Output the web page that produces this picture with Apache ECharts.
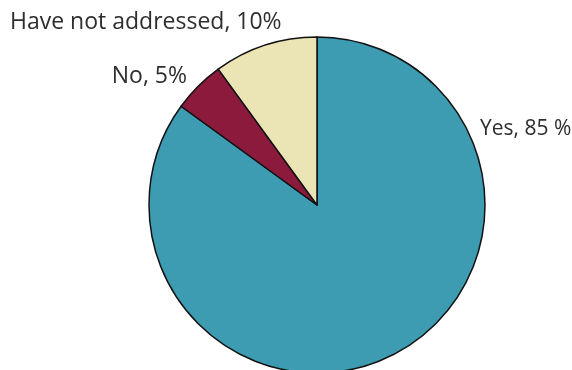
<!DOCTYPE html>
<html><head><meta charset="utf-8">
<script src="https://cdn.jsdelivr.net/npm/echarts@6/dist/echarts.min.js"></script>
<style>html,body{margin:0;padding:0;background:#fff}#c{width:572px;height:370px}</style>
</head><body><div id="c"></div>
<script>
const categories = ['Yes', 'No', 'Have not addressed'];
const values = [85, 5, 10];
const labelTexts = ['Yes, 85 %', 'No, 5%', 'Have not addressed, 10%'];
const colors = ['#3d9bb2', '#8c1a3c', '#ebe4b5'];
const labelPos = [
  {x: 480, y: 129, align: 'left', size: 21},
  {x: 187, y: 76, align: 'right', size: 23},
  {x: 10, y: 22, align: 'left', size: 23}
];
const chart = echarts.init(document.getElementById('c'));
chart.setOption({
  animation: false,
  series: [{
    type: 'pie',
    center: [317, 205],
    radius: 168,
    startAngle: 90,
    clockwise: true,
    itemStyle: {borderColor: '#111', borderWidth: 1.5},
    label: {
      show: true, position: 'outside', overflow: 'none',
      formatter: p => labelTexts[p.dataIndex],
      fontFamily: 'Open Sans', fontSize: 22, color: '#2e2e2e'
    },
    labelLine: {show: false},
    labelLayout: p => ({x: labelPos[p.dataIndex].x, y: labelPos[p.dataIndex].y, align: labelPos[p.dataIndex].align, verticalAlign: 'middle'}),
    emphasis: {disabled: true},
    data: categories.map((c, i) => ({name: c, value: values[i], itemStyle: {color: colors[i]},
      label: {fontSize: labelPos[i].size}}))
  }]
});
</script></body></html>
